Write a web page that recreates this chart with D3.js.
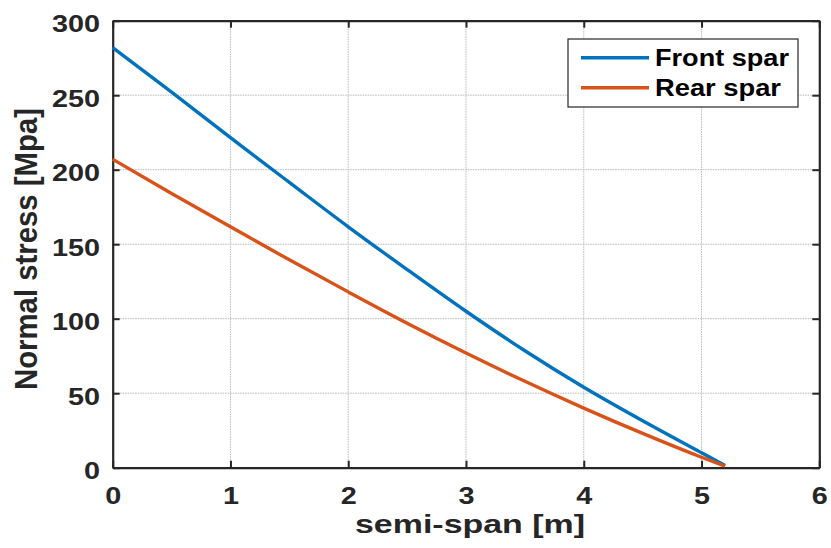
<!DOCTYPE html>
<html>
<head>
<meta charset="utf-8">
<script src="https://cdn.jsdelivr.net/npm/d3@7"></script>
<style>
  body { margin: 0; background: #fff; }
  text { font-family: "Liberation Sans", Arial, sans-serif; font-weight: bold; }
</style>
</head>
<body>
<div id="host"></div>
<script>
// Layout constants
const width = 831;
const height = 548;
const margin = {top: 20.7, right: 11.7, bottom: 80.3, left: 112.7};
const stretch = 1.2; // the reference text is drawn wide

// Data
const span = [0, 0.5, 1, 1.5, 2, 2.5, 3, 3.5, 4, 4.5, 5, 5.2];
const frontSpar = [282, 252, 221.5, 191.5, 161.7, 133, 105, 78.5, 54, 31.5, 10, 1.5];
const rearSpar = [207, 184, 161.7, 139.5, 118, 97, 77, 58, 40, 23, 7, 1];
const xTicks = [0, 1, 2, 3, 4, 5, 6];
const yTicks = [0, 50, 100, 150, 200, 250, 300];
const seriesNames = ["Front spar", "Rear spar"];
const seriesColors = ["#0072BD", "#D95319"];

const svg = d3.select("#host").append("svg")
    .attr("width", width)
    .attr("height", height);

const x = d3.scaleLinear().domain([0, 6])
    .range([margin.left, width - margin.right]);
const y = d3.scaleLinear().domain([0, 300])
    .range([height - margin.bottom, margin.top]);

// Grid
const grid = svg.append("g")
    .attr("stroke", "#b8b8b8")
    .attr("stroke-width", 1)
    .attr("stroke-dasharray", "1.5,1");
grid.selectAll(".gx")
    .data(xTicks.slice(1, -1))
    .join("line")
    .attr("x1", d => x(d)).attr("x2", d => x(d))
    .attr("y1", y(0)).attr("y2", y(300));
grid.selectAll(".gy")
    .data(yTicks.slice(1, -1))
    .join("line")
    .attr("y1", d => y(d)).attr("y2", d => y(d))
    .attr("x1", x(0)).attr("x2", x(6));

// Axes with inward ticks on all sides
const tick = 7;
const axisColor = "#262626";
const fmt = d3.format("d");
const axBottom = svg.append("g")
    .attr("transform", `translate(0,${y(0)})`)
    .call(d3.axisBottom(x).tickValues(xTicks).tickFormat(fmt)
        .tickSizeInner(-tick).tickSizeOuter(0).tickPadding(19.5));
const axTop = svg.append("g")
    .attr("transform", `translate(0,${y(300)})`)
    .call(d3.axisTop(x).tickValues(xTicks).tickSizeInner(-tick).tickSizeOuter(0).tickFormat(""));
const axLeft = svg.append("g")
    .attr("transform", `translate(${x(0)},0)`)
    .call(d3.axisLeft(y).tickValues(yTicks).tickFormat(fmt)
        .tickSizeInner(-tick).tickSizeOuter(0));
const axRight = svg.append("g")
    .attr("transform", `translate(${x(6)},0)`)
    .call(d3.axisRight(y).tickValues(yTicks).tickSizeInner(-tick).tickSizeOuter(0).tickFormat(""));

for (const g of [axBottom, axTop, axLeft, axRight]) {
    g.select(".domain").attr("stroke", axisColor).attr("stroke-width", 2.2);
    g.selectAll(".tick line").attr("stroke", axisColor).attr("stroke-width", 2);
    g.selectAll(".tick text")
        .attr("fill", axisColor)
        .attr("transform", `scale(${stretch},1)`)
        .style("font-size", "24px")
        .style("font-family", "'Liberation Sans', Arial, sans-serif")
        .style("font-weight", "bold");
}
axBottom.selectAll(".tick text").attr("dy", "0.71em");
axLeft.selectAll(".tick text")
    .attr("x", -12.7 / stretch)
    .attr("dy", "0.47em");

// Lines
const line = d3.line()
    .x((d, i) => x(span[i]))
    .y(d => y(d))
    .curve(d3.curveMonotoneX);
svg.selectAll(".series")
    .data([frontSpar, rearSpar])
    .join("path")
    .attr("fill", "none")
    .attr("stroke", (d, i) => seriesColors[i])
    .attr("stroke-width", 3.4)
    .attr("d", line);

// Axis labels
svg.append("text")
    .attr("x", 470)
    .attr("y", 533)
    .attr("text-anchor", "middle")
    .attr("fill", axisColor)
    .attr("textLength", 230)
    .attr("lengthAdjust", "spacingAndGlyphs")
    .style("font-size", "26px")
    .text("semi-span [m]");

svg.append("text")
    .attr("transform", `translate(36.5,249) rotate(-90)`)
    .attr("text-anchor", "middle")
    .attr("fill", axisColor)
    .attr("textLength", 282)
    .attr("lengthAdjust", "spacingAndGlyphs")
    .style("font-size", "31px")
    .text("Normal stress [Mpa]");

// Legend
const legendWidths = [134, 126];
const legend = svg.append("g");
legend.append("rect")
    .attr("x", 568).attr("y", 39)
    .attr("width", 230).attr("height", 68)
    .attr("fill", "#fff")
    .attr("stroke", axisColor)
    .attr("stroke-width", 1.2);
const items = legend.selectAll(".item")
    .data(seriesNames)
    .join("g")
    .attr("transform", (d, i) => `translate(0,${57.7 + i * 30})`);
items.append("line")
    .attr("x1", 581).attr("x2", 649)
    .attr("stroke", (d, i) => seriesColors[i])
    .attr("stroke-width", 3.4);
items.append("text")
    .attr("x", 655)
    .attr("dy", "0.36em")
    .attr("fill", "#000")
    .attr("textLength", (d, i) => legendWidths[i])
    .attr("lengthAdjust", "spacingAndGlyphs")
    .style("font-size", "23.5px")
    .text(d => d);
</script>
</body>
</html>
